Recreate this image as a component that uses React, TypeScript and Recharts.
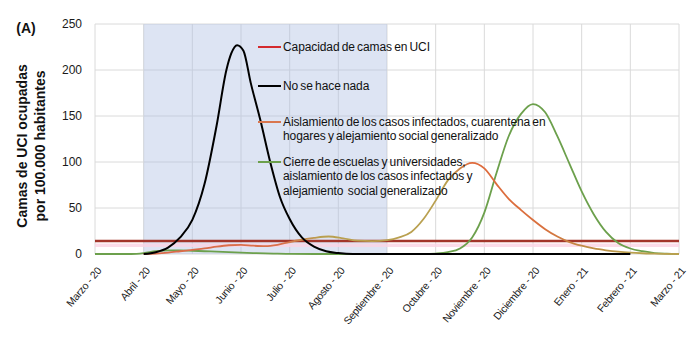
import React from 'react';
import { LineChart, Line, XAxis, YAxis, CartesianGrid, ReferenceLine, ReferenceArea, Legend } from 'recharts';

const FONT = '"Liberation Sans", Arial, sans-serif';

const monthTicks = [0, 1, 2, 3, 4, 5, 6, 7, 8, 9, 10, 11, 12];
const monthLabels = [
  'Marzo - 20', 'Abril - 20', 'Mayo - 20', 'Junio - 20', 'Julio - 20', 'Agosto - 20',
  'Septiembre - 20', 'Octubre - 20', 'Noviembre - 20', 'Diciembre - 20', 'Enero - 21',
  'Febrero - 21', 'Marzo - 21',
];
const yTicks = [0, 50, 100, 150, 200, 250];

// "No se hace nada"
const noActionMonths = [1.0, 1.25, 1.5, 1.75, 2.0, 2.25, 2.5, 2.7, 2.8, 2.92, 3.05, 3.2, 3.4, 3.6, 3.8, 4.0, 4.25, 4.5, 4.75, 5.0, 5.3, 6, 7, 8, 9, 10, 11];
const noActionValues = [0, 2, 7, 18, 37, 76, 140, 200, 218, 227, 221, 186, 145, 100, 62, 38, 18, 8, 3, 1, 0, 0, 0, 0, 0, 0, 0];

// "Aislamiento de los casos infectados, cuarentena en hogares..."
const isolationMonths = [1.0, 1.25, 1.5, 1.75, 2.0, 2.25, 2.5, 2.75, 3.0, 3.25, 3.5, 3.75, 4.0, 4.25, 4.5, 4.8, 5.1, 5.4, 5.7, 6.0, 6.25, 6.5, 6.75, 7.0, 7.25, 7.5, 7.75, 8.0, 8.25, 8.5, 8.75, 9.0, 9.25, 9.5, 9.75, 10.0, 10.25, 10.5, 10.75, 11.0, 11.25, 11.5, 12];
const isolationValues = [0, 0.5, 1.5, 3, 4.5, 6, 8, 9.5, 10, 9, 8.5, 10, 13, 15.5, 17.5, 19, 17, 14.5, 14, 15, 18, 24, 38, 58, 80, 93, 99, 93, 76, 60, 48, 37, 27, 19, 13, 9, 6, 4, 2.5, 1.5, 0.8, 0.3, 0];

// "Cierre de escuelas y universidades..."
const closureMonths = [0, 0.75, 1.0, 1.25, 1.5, 1.75, 2.0, 2.25, 2.5, 2.75, 3.0, 3.25, 3.5, 3.75, 4.0, 4.5, 5, 6, 6.75, 7.0, 7.25, 7.5, 7.75, 8.0, 8.25, 8.5, 8.75, 9.0, 9.25, 9.5, 9.75, 10.0, 10.25, 10.5, 10.75, 11.0, 11.25, 11.5, 11.75, 12];
const closureValues = [0, 0, 1, 3, 4, 4, 3.5, 3, 2.5, 2, 1.5, 1, 0.6, 0.3, 0.1, 0, 0, 0, 0, 0.5, 2, 6, 18, 45, 88, 128, 152, 163, 154, 128, 98, 68, 43, 24, 12, 6, 3, 1, 0.3, 0];

const icuCapacity = 14;
const shadedStart = 1;
const shadedEnd = 6;

const legendItems = [
  { color: '#d42a2e', lines: ['Capacidad de camas en UCI'] },
  { color: '#000000', lines: ['No se hace nada'] },
  { color: '#d9764e', lines: ['Aislamiento de los casos infectados, cuarentena en', 'hogares y alejamiento social generalizado'] },
  { color: '#6ca04c', lines: ['Cierre de escuelas y universidades,', 'aislamiento de los casos infectados y', 'alejamiento  social generalizado'] },
];
const legendRowY = [47, 86, 122, 162];

const toRows = (ms: number[], vs: number[]) => ms.map((m, i) => ({ m, v: vs[i] }));
const noActionData = toRows(noActionMonths, noActionValues);
const isolationData = toRows(isolationMonths, isolationValues);
const closureData = toRows(closureMonths, closureValues);

const MonthTick = (props: any) => {
  const { x, y, payload } = props;
  return (
    <text
      transform={`translate(${x + 7},${y + 17}) rotate(-50)`}
      textAnchor="end"
      fontSize={10.5}
      fill="#1a1a1a"
      fontFamily={FONT}
      letterSpacing={-0.25}
    >
      {monthLabels[payload.value]}
    </text>
  );
};

const LegendContent = () => (
  <svg width={700} height={356} style={{ fontFamily: FONT }}>
    {legendItems.map((item, i) => (
      <g key={i}>
        <line x1={258} x2={281} y1={legendRowY[i]} y2={legendRowY[i]} stroke={item.color} strokeWidth={2} />
        {item.lines.map((ln, j) => (
          <text key={j} x={283} y={legendRowY[i] + 4 + j * 14.3} fontSize={12} fill="#111" wordSpacing={-1} letterSpacing={-0.1} style={{ whiteSpace: 'pre' }}>
            {ln}
          </text>
        ))}
      </g>
    ))}
  </svg>
);

const YTitle = (props: any) => {
  const vb = props.viewBox || { x: 0, y: 24, height: 230 };
  const cy = vb.y + vb.height / 2 + 7;
  return (
    <g fontFamily={FONT} fontWeight="bold" fill="#111">
      <text x={26} y={33} fontSize={14} textAnchor="middle">(A)</text>
      <text transform={`translate(27,${cy}) rotate(-90)`} textAnchor="middle" fontSize={14}>Camas de UCI ocupadas</text>
      <text transform={`translate(45,${cy}) rotate(-90)`} textAnchor="middle" fontSize={14}>por 100.000 habitantes</text>
    </g>
  );
};

export default function App() {
  return (
    <div style={{ position: 'absolute', left: 0, top: 0, width: 700, height: 356, background: '#fff' }}>
      <LineChart
        width={700}
        height={356}
        margin={{ top: 24, right: 21, left: 0, bottom: 0 }}
        style={{ fontFamily: FONT }}
      >
        <defs>
          <linearGradient id="isoGrad" x1="0" y1="0" x2="1" y2="0">
            <stop offset="0" stopColor="#dc6a4a" />
            <stop offset="0.26" stopColor="#d9704a" />
            <stop offset="0.33" stopColor="#b9a050" />
            <stop offset="0.57" stopColor="#b9a050" />
            <stop offset="0.61" stopColor="#df6a3c" />
            <stop offset="0.745" stopColor="#d9703e" />
            <stop offset="0.82" stopColor="#c08a44" />
            <stop offset="0.91" stopColor="#b9a04e" />
            <stop offset="1" stopColor="#b9a04e" />
          </linearGradient>
        </defs>
        <CartesianGrid stroke="#dadada" strokeWidth={1} />
        <XAxis
          dataKey="m"
          type="number"
          domain={[0, 12]}
          ticks={monthTicks}
          interval={0}
          tick={<MonthTick />}
          tickLine={false}
          axisLine={false}
          tickSize={0}
          tickMargin={0}
          height={102}
          allowDuplicatedCategory={false}
        />
        <YAxis
          type="number"
          domain={[0, 250]}
          ticks={yTicks}
          interval={0}
          width={95}
          tickLine={false}
          axisLine={false}
          tickSize={0}
          tickMargin={13}
          tick={{ fontSize: 12, fill: '#1a1a1a', fontFamily: FONT }}
          label={{ content: <YTitle /> }}
        />
        <ReferenceArea x1={shadedStart} x2={shadedEnd} y1={0} y2={250} fill="#aebfe2" fillOpacity={0.42} stroke="none" />
        <ReferenceArea x1={0} x2={12} y1={7.5} y2={11.5} fill="#fbd3e4" fillOpacity={0.8} stroke="none" />
        <ReferenceLine y={icuCapacity} stroke="#a3352a" strokeWidth={2.5} />
        <Line data={closureData} dataKey="v" type="monotone" stroke="#6ca04c" strokeWidth={1.8} dot={false} isAnimationActive={false} name="Cierre" />
        <Line data={isolationData} dataKey="v" type="monotone" stroke="url(#isoGrad)" strokeWidth={1.8} dot={false} isAnimationActive={false} name="Aislamiento" />
        <Line data={noActionData} dataKey="v" type="monotone" stroke="#000000" strokeWidth={2} dot={false} isAnimationActive={false} name="No se hace nada" />
        <Legend
          verticalAlign="middle"
          align="center"
          layout="horizontal"
          content={<LegendContent />}
          wrapperStyle={{ left: 0, top: 0, width: 700, height: 356, pointerEvents: 'none' }}
        />
      </LineChart>
    </div>
  );
}
